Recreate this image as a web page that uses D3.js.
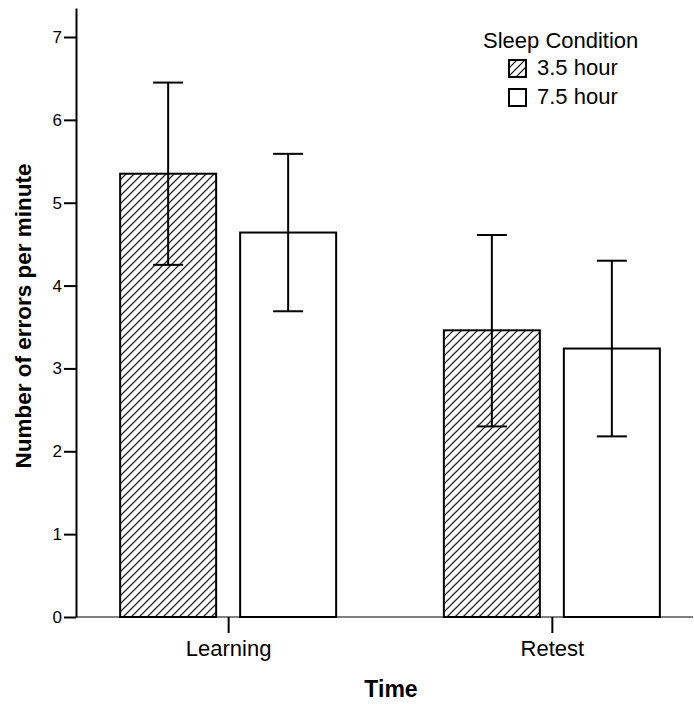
<!DOCTYPE html>
<html>
<head>
<meta charset="utf-8">
<script src="https://cdn.jsdelivr.net/npm/d3@7"></script>
<style>
  body { margin: 0; background: #fff; }
  svg { display: block; font-family: "Liberation Sans", Arial, sans-serif; }
</style>
</head>
<body>
<script>
const categories = ['Learning', 'Retest'];
const conditions = ['3.5 hour', '7.5 hour'];
const means = [[5.35, 4.64], [3.46, 3.24]];
const upper = [[6.45, 5.59], [4.61, 4.30]];
const lower = [[4.25, 3.69], [2.30, 2.18]];
const yTicks = [0, 1, 2, 3, 4, 5, 6, 7];

const width = 694;
const height = 704;
const left = 76, bottom = 617;

const svg = d3.select('body').append('svg')
  .attr('width', width)
  .attr('height', height);

const defs = svg.append('defs');
defs.append('pattern')
  .attr('id', 'hatch')
  .attr('patternUnits', 'userSpaceOnUse')
  .attr('width', 8).attr('height', 8)
  .append('path')
  .attr('d', 'M0,8 L8,0 M-2,2 L2,-2 M6,10 L10,6')
  .attr('stroke', '#000')
  .attr('stroke-width', 1.2);

const x = d3.scalePoint()
  .domain(categories)
  .range([left, 704])
  .padding(0.47);

const xInner = d3.scaleBand()
  .domain(conditions)
  .range([-120, 120])
  .paddingInner(0.2)
  .paddingOuter(0.1);

const y = d3.scaleLinear()
  .domain([0, 7.35])
  .range([bottom, 8]);

const fills = ['url(#hatch)', '#fff'];

// bars
const groups = svg.selectAll('g.cat')
  .data(categories)
  .enter().append('g')
  .attr('class', 'cat')
  .attr('transform', d => `translate(${x(d)},0)`);

groups.each(function(cat, ci) {
  const g = d3.select(this);
  conditions.forEach((c, si) => {
    g.append('rect')
      .attr('x', xInner(c))
      .attr('y', y(means[ci][si]))
      .attr('width', xInner.bandwidth())
      .attr('height', y(0) - y(means[ci][si]))
      .attr('fill', fills[si])
      .attr('stroke', '#000')
      .attr('stroke-width', 2);
  });
});

// x axis line
svg.append('line')
  .attr('x1', left).attr('x2', 693)
  .attr('y1', bottom).attr('y2', bottom)
  .attr('stroke', '#000')
  .attr('stroke-width', 1);

// error bars
groups.each(function(cat, ci) {
  const g = d3.select(this);
  conditions.forEach((c, si) => {
    const cx = xInner(c) + xInner.bandwidth() / 2;
    const eb = g.append('g').attr('stroke', '#000').attr('stroke-width', 2);
    eb.append('line')
      .attr('x1', cx).attr('x2', cx)
      .attr('y1', y(upper[ci][si])).attr('y2', y(lower[ci][si]));
    [upper[ci][si], lower[ci][si]].forEach(v => {
      eb.append('line')
        .attr('x1', cx - 15).attr('x2', cx + 15)
        .attr('y1', y(v)).attr('y2', y(v));
    });
  });
});

// y axis
const yAxis = svg.append('g')
  .attr('transform', `translate(${left},0)`)
  .call(d3.axisLeft(y).tickValues(yTicks).tickFormat(d3.format('d'))
        .tickSize(12).tickSizeOuter(0).tickPadding(2));
yAxis.select('.domain').attr('stroke-width', 2);
yAxis.selectAll('.tick line').attr('stroke-width', 2);
yAxis.selectAll('.tick text')
  .attr('font-size', 17)
  .attr('font-family', '"Liberation Sans", Arial, sans-serif')
  .attr('fill', '#000');

// x axis ticks/labels
const xAxis = svg.append('g')
  .attr('transform', `translate(0,${bottom})`)
  .call(d3.axisBottom(x).tickSize(16).tickSizeOuter(0).tickPadding(7));
xAxis.select('.domain').remove();
xAxis.selectAll('.tick line').attr('stroke-width', 2);
xAxis.selectAll('.tick text')
  .attr('font-size', 22)
  .attr('font-family', '"Liberation Sans", Arial, sans-serif')
  .attr('fill', '#000');

// axis titles
svg.append('text')
  .attr('x', 391).attr('y', 697)
  .attr('text-anchor', 'middle')
  .attr('font-size', 23)
  .attr('font-weight', 'bold')
  .text('Time');

svg.append('text')
  .attr('transform', 'translate(31,316) rotate(-90)')
  .attr('text-anchor', 'middle')
  .attr('font-size', 22.5)
  .attr('font-weight', 'bold')
  .text('Number of errors per minute');

// legend
const legend = svg.append('g').attr('transform', 'translate(483,48)');
legend.append('text')
  .attr('x', 0).attr('y', 0)
  .attr('font-size', 22)
  .text('Sleep Condition');
conditions.forEach((c, i) => {
  const row = legend.append('g').attr('transform', `translate(26,${12 + i * 29})`);
  row.append('rect')
    .attr('width', 17).attr('height', 17)
    .attr('fill', fills[i])
    .attr('stroke', '#000')
    .attr('stroke-width', 2);
  row.append('text')
    .attr('x', 28).attr('y', 15)
    .attr('font-size', 22)
    .text(c);
});
</script>
</body>
</html>
